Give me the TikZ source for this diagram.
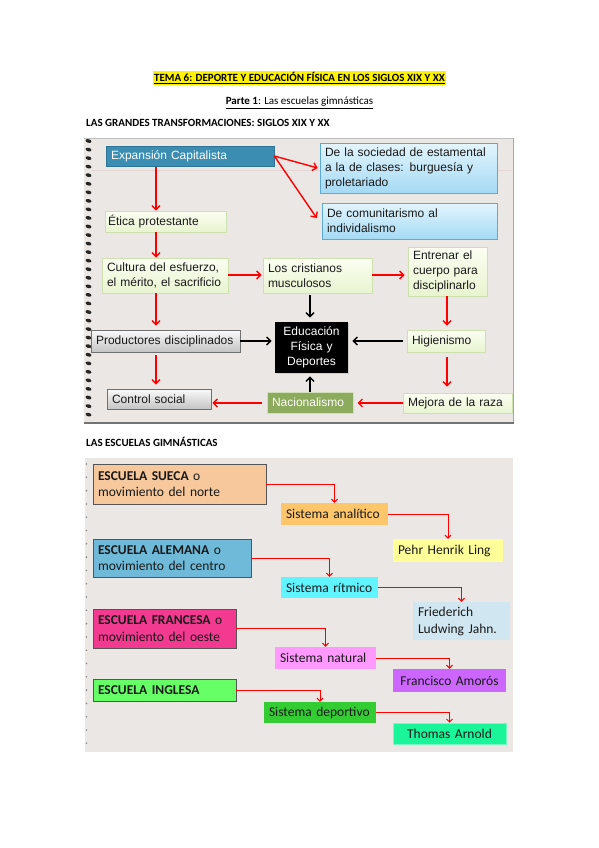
\documentclass[tikz,border=0pt]{standalone}
\usepackage{fontspec}
\setmainfont{Carlito}
\newfontfamily\arialf{Liberation Sans}
\newfontfamily\calibrif{Carlito}
\usetikzlibrary{arrows.meta,shadows}
\definecolor{panelbg}{HTML}{EBE7E4}
\definecolor{ruleline}{HTML}{E3D6D4}
\definecolor{expfill}{HTML}{3C8DB2}
\definecolor{expborder}{HTML}{2E7497}
\definecolor{bluetop}{HTML}{E4F5FD}
\definecolor{bluebot}{HTML}{A4DAF4}
\definecolor{blueborder}{HTML}{5BAAD6}
\definecolor{greentop}{HTML}{FBFEF2}
\definecolor{greenbot}{HTML}{E8F4D0}
\definecolor{greenborder}{HTML}{CFE0B0}
\definecolor{graytop}{HTML}{FAFAFA}
\definecolor{graybot}{HTML}{C4C4C4}
\definecolor{grayborder}{HTML}{707070}
\definecolor{nacfill}{HTML}{8DAB5D}
\definecolor{nacborder}{HTML}{D0DFB8}
\definecolor{arrowred}{HTML}{FF0000}
\definecolor{suecafill}{HTML}{F6C89C}
\definecolor{analfill}{HTML}{FDC66A}
\definecolor{pehrfill}{HTML}{FFFF99}
\definecolor{alemfill}{HTML}{6FBAD8}
\definecolor{ritmfill}{HTML}{5FF4FF}
\definecolor{friedfill}{HTML}{D0E6F0}
\definecolor{franfill}{HTML}{F23A91}
\definecolor{natfill}{HTML}{FF99FF}
\definecolor{amorfill}{HTML}{CC66FF}
\definecolor{inglfill}{HTML}{66FF66}
\definecolor{depfill}{HTML}{33CC33}
\definecolor{thomfill}{HTML}{1AF59A}
\definecolor{escborder}{HTML}{555555}
\begin{document}
\begin{tikzpicture}[x=1pt,y=-1pt,
  topfont/.style={font=\arialf\fontsize{12}{15}\selectfont},
  botfont/.style={font=\calibrif\fontsize{13.5}{16.5}\selectfont},
  tbox/.style={topfont, inner xsep=5pt, inner ysep=1pt, align=left, text=black!90, line width=0.6pt,
    drop shadow={shadow xshift=1.2pt, shadow yshift=-1.2pt, opacity=0.25}},
  expbox/.style={tbox, fill=expfill, draw=expborder, text=white},
  bluebox/.style={tbox, top color=bluetop, bottom color=bluebot, draw=blueborder},
  greenbox/.style={tbox, top color=greentop, bottom color=greenbot, draw=greenborder},
  graybox/.style={tbox, top color=graytop, bottom color=graybot, draw=grayborder},
  edubox/.style={tbox, fill=black, text=white, align=center},
  nacbox/.style={tbox, fill=nacfill, draw=nacborder, line width=1pt, text=white},
  rarr/.style={draw=arrowred, line width=1.4pt, -{Straight Barb[length=4pt,width=8pt]}},
  karr/.style={draw=black, line width=1.4pt, -{Straight Barb[length=4pt,width=8pt]}},
  bbox/.style={botfont, inner xsep=5pt, inner ysep=1pt, align=left, text=black!90},
  escbox/.style={bbox, draw=escborder, line width=0.8pt},
  barr/.style={draw=arrowred, line width=1pt, -{Straight Barb[length=3pt,width=6pt]}},
  ring/.style={fill=black!85},
  dot/.style={fill=black!45}
]
\useasboundingbox[fill=white] (0,0) rectangle (599,848);

% ---------- headings ----------
\node[fill=yellow, inner xsep=1pt, inner ysep=1.5pt, font=\calibrif\bfseries\fontsize{11}{13}\selectfont] (title) at (299.5,78)
  {\underline{TEMA 6: DEPORTE Y EDUCACIÓN FÍSICA EN LOS SIGLOS XIX Y XX}};
\node[inner sep=0pt, font=\calibrif\fontsize{11}{13}\selectfont] (parte) at (299.5,103)
  {\underline{\textbf{Parte 1}: Las escuelas gimnásticas}};
\node[inner sep=0pt, anchor=west, font=\calibrif\bfseries\fontsize{11}{13}\selectfont] (head1) at (86,123)
  {LAS GRANDES TRANSFORMACIONES: SIGLOS XIX Y XX};
\node[inner sep=0pt, anchor=west, font=\calibrif\bfseries\fontsize{11}{13}\selectfont] (head2) at (86,442)
  {LAS ESCUELAS GIMNÁSTICAS};

% ---------- top panel ----------
\fill[panelbg] (84,138) rectangle (514,423);
\draw[black!25, line width=0.6pt] (84,138) -- (514,138);
\draw[black!35, line width=0.8pt] (513,138) -- (513,423);
\draw[black!55, line width=2pt] (84,423) -- (514,423);
\draw[ruleline, line width=0.6pt] (92,170) -- (512,170);
\foreach \k in {0,...,32} {
  \fill[ring, rotate around={-15:(88.5,141+8.55*\k)}] (88.5,141+8.55*\k) ellipse (3pt and 1.8pt);
}

% top nodes
\node[expbox, text width=158pt, minimum height=20pt] (exp) at (190,156) {Expansión Capitalista};
\node[bluebox, text width=167pt, minimum height=50pt] (soc) at (408.5,168)
  {De la sociedad de estamental\\a la de clases: burguesía y\\proletariado};
\node[bluebox, text width=165pt, minimum height=36pt] (com) at (409.5,221)
  {De comunitarismo al\\individalismo};
\node[greenbox, text width=115pt, minimum height=21pt, inner xsep=3pt] (etica) at (165.5,221.5) {Ética protestante\hspace*{4pt}};
\node[greenbox, text width=116pt, minimum height=35pt] (cult) at (165,275.5)
  {Cultura del esfuerzo,\\el mérito, el sacrificio};
\node[greenbox, text width=99pt, minimum height=35pt] (cris) at (317.5,275.5)
  {Los cristianos\\musculosos};
\node[greenbox, text width=69pt, minimum height=49pt] (entr) at (447.5,271.5)
  {Entrenar el\\cuerpo para\\disciplinarlo};
\node[graybox, text width=139pt, minimum height=22pt] (prod) at (165.5,341) {Productores disciplinados};
\node[edubox, text width=63pt, minimum height=51pt] (edu) at (311.5,347.5) {Educación\\Física y\\Deportes};
\node[greenbox, text width=68pt, minimum height=22pt] (hig) at (446,341) {Higienismo};
\node[graybox, text width=94pt, minimum height=20pt] (ctrl) at (159,399) {Control social};
\node[nacbox, text width=76pt, minimum height=21pt] (nac) at (310,402.5) {Nacionalismo};
\node[greenbox, text width=99pt, minimum height=20pt] (mej) at (457.5,403) {Mejora de la raza};

% top connectors
\coordinate (colA) at (156,0);
\coordinate (colB) at (310,0);
\coordinate (colC) at (447,0);
\coordinate (rowA) at (0,275);
\coordinate (rowB) at (0,341);
\coordinate (rowC) at (0,403);
\draw[rarr] ([yshift=-1pt]exp.south -| colA) -- (etica.north -| colA);
\draw[rarr] (exp.east) -- ([xshift=-2pt]soc.west);
\draw[rarr] (exp.east) -- ([xshift=-5pt,yshift=3pt]com.west);
\draw[rarr] (etica.south -| colA) -- (cult.north -| colA);
\draw[rarr] (cult.east |- rowA) -- ([xshift=-1pt]cris.west |- rowA);
\draw[rarr] (cris.east |- rowA) -- ([xshift=-3pt]entr.west |- rowA);
\draw[rarr] (cult.south -| colA) -- ([yshift=4pt]prod.north -| colA);
\draw[rarr] ([yshift=-3pt]prod.south -| colA) -- ([yshift=4pt]ctrl.north -| colA);
\draw[karr] (prod.east |- rowB) -- ([xshift=-3pt]edu.west |- rowB);
\draw[karr] ([yshift=-2pt]cris.south -| colB) -- ([yshift=4pt]edu.north -| colB);
\draw[karr] ([xshift=-4pt]hig.west |- rowB) -- ([xshift=4pt]edu.east |- rowB);
\draw[karr] (nac.north -| colB) -- ([yshift=-3pt]edu.south -| colB);
\draw[rarr] (entr.south -| colC) -- ([yshift=4pt]hig.north -| colC);
\draw[rarr] ([yshift=-5pt]hig.south -| colC) -- ([yshift=6pt]mej.north -| colC);
\draw[rarr] (mej.west |- rowC) -- ([xshift=4pt]nac.east |- rowC);
\draw[rarr] ([xshift=-5pt]nac.west |- rowC) -- ([xshift=1pt]ctrl.east |- rowC);

% ---------- bottom panel ----------
\fill[panelbg] (85,458) rectangle (513,752);
\foreach \k in {0,...,21} {
  \fill[dot] (86.5,464+13.3*\k) circle (0.9pt);
}

\node[escbox, fill=suecafill, text width=163pt, minimum height=40pt] (sueca) at (179.5,484)
  {\textbf{ESCUELA SUECA} o\\movimiento del norte};
\node[bbox, fill=analfill, text width=97pt, minimum height=22pt] (anal) at (334.5,514) {Sistema analítico};
\node[bbox, fill=pehrfill, text width=100pt, minimum height=23pt] (pehr) at (448,550.5) {Pehr Henrik Ling};
\node[escbox, fill=alemfill, text width=148pt, minimum height=38pt] (alem) at (172,558)
  {\textbf{ESCUELA ALEMANA} o\\movimiento del centro};
\node[bbox, fill=ritmfill, text width=87pt, minimum height=21pt] (ritm) at (329.5,587.5) {Sistema rítmico};
\node[bbox, fill=friedfill, text width=87pt, minimum height=38pt, font=\calibrif\fontsize{13.5}{17}\selectfont] (fried) at (461.5,621)
  {Friederich\\Ludwing Jahn.};
\node[escbox, fill=franfill, text width=133pt, minimum height=39pt] (fran) at (164.5,628.5)
  {\textbf{ESCUELA FRANCESA} o\\movimiento del oeste};
\node[bbox, fill=natfill, text width=91pt, minimum height=22pt] (nat) at (325.5,658) {Sistema natural};
\node[bbox, fill=amorfill, text width=103pt, minimum height=23pt, align=center] (amor) at (449.5,680.5) {Francisco Amorós};
\node[escbox, fill=inglfill, text width=133pt, minimum height=22pt] (ingl) at (164.5,690) {\textbf{ESCUELA INGLESA}};
\node[bbox, fill=depfill, text width=102pt, minimum height=21pt] (dep) at (320,712.5) {Sistema deportivo};
\node[bbox, fill=thomfill, draw=thomfill!60!white, line width=0.6pt, text width=103pt, minimum height=21pt, align=center] (thom) at (449.5,733.5) {Thomas Arnold};

% bottom connectors
\draw[barr] (sueca.east) -| (anal.north);
\draw[barr] (anal.east) -| (pehr.north);
\draw[barr] (alem.east) -| (ritm.north);
\draw[barr] (ritm.east) -| (fried.north);
\draw[barr] (fran.east) -| (nat.north);
\draw[barr] (nat.east) -| (amor.north);
\draw[barr] (ingl.east) -| (dep.north);
\draw[barr] (dep.east) -| (thom.north);
\end{tikzpicture}
\end{document}
